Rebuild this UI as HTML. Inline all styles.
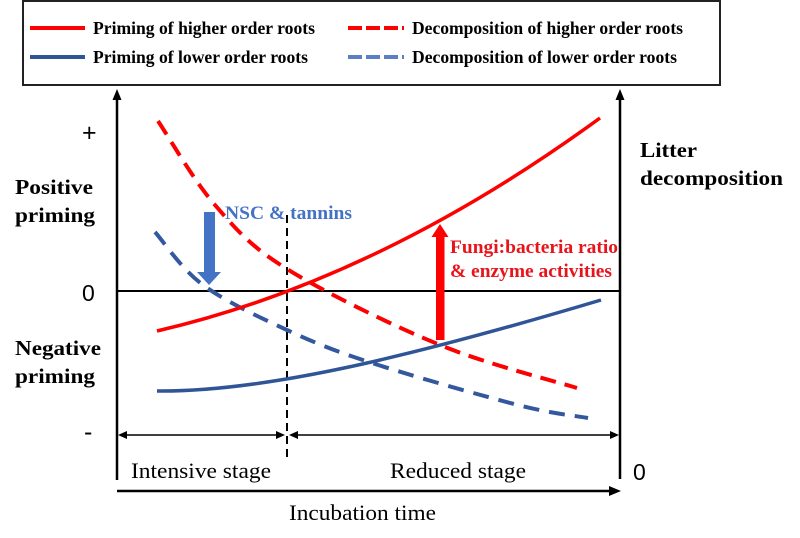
<!DOCTYPE html>
<html>
<head>
<meta charset="utf-8">
<style>
  html, body { margin: 0; padding: 0; background: #ffffff; }
  svg { display: block; }
  .serif { font-family: "Liberation Serif", "DejaVu Serif", serif; }
  .sans { font-family: "Liberation Sans", "DejaVu Sans", sans-serif; }
</style>
</head>
<body>
<svg width="800" height="538" viewBox="0 0 800 538" xmlns="http://www.w3.org/2000/svg">
  <rect x="0" y="0" width="800" height="538" fill="#ffffff"/>

  <!-- Legend -->
  <rect x="23" y="1" width="697" height="84" fill="#ffffff" stroke="#222" stroke-width="2"/>
  <line x1="30" y1="28" x2="85" y2="28" stroke="#ff0000" stroke-width="4"/>
  <line x1="30" y1="57" x2="85" y2="57" stroke="#2f5597" stroke-width="4"/>
  <line x1="348" y1="28" x2="404" y2="28" stroke="#ff0000" stroke-width="4" stroke-dasharray="14 4"/>
  <line x1="348" y1="57" x2="404" y2="57" stroke="#5b7fc4" stroke-width="4" stroke-dasharray="14 4"/>
  <g class="serif" font-weight="bold" font-size="17.5" fill="#000">
    <text x="93" y="34" textLength="222" lengthAdjust="spacingAndGlyphs">Priming of higher order roots</text>
    <text x="93" y="63" textLength="215" lengthAdjust="spacingAndGlyphs">Priming of lower order roots</text>
    <text x="412" y="34" textLength="271" lengthAdjust="spacingAndGlyphs">Decomposition of higher order roots</text>
    <text x="412" y="63" textLength="265" lengthAdjust="spacingAndGlyphs">Decomposition of lower order roots</text>
  </g>

  <!-- Axes -->
  <line x1="117" y1="96" x2="117" y2="480" stroke="#000" stroke-width="2.5"/>
  <polygon points="117,89 112.5,100 121.5,100" fill="#000"/>
  <line x1="620" y1="96" x2="620" y2="479" stroke="#000" stroke-width="2.5"/>
  <polygon points="620,89 615.5,100 624.5,100" fill="#000"/>
  <!-- zero line -->
  <line x1="117" y1="291" x2="620" y2="291" stroke="#000" stroke-width="2"/>

  <!-- vertical dashed divider -->
  <line x1="287" y1="215" x2="287" y2="457" stroke="#000" stroke-width="2" stroke-dasharray="8 5"/>

  <!-- stage double arrows -->
  <line x1="121" y1="435" x2="282" y2="435" stroke="#000" stroke-width="1.6"/>
  <polygon points="118,435 127,431 127,439" fill="#000"/>
  <polygon points="285,435 276,431 276,439" fill="#000"/>
  <line x1="292" y1="435" x2="616" y2="435" stroke="#000" stroke-width="1.6"/>
  <polygon points="289,435 298,431 298,439" fill="#000"/>
  <polygon points="619,435 610,431 610,439" fill="#000"/>

  <!-- incubation arrow -->
  <line x1="117" y1="491" x2="612" y2="491" stroke="#000" stroke-width="2.5"/>
  <polygon points="621,491 609,486 609,496" fill="#000"/>

  <!-- Curves -->
  <!-- Decomposition higher (red dashed) -->
  <path d="M158,121 C167.5,135 193.5,180.3 215,205 C236.5,229.7 249.5,245.7 287,269 C324.5,292.3 391.7,325.2 440,345 C488.3,364.8 554.2,380.8 577,388"
        fill="none" stroke="#ff0000" stroke-width="4" stroke-dasharray="16 9"/>
  <!-- Decomposition lower (blue dashed) -->
  <path d="M155,232 C163,240.8 181,268.7 203,285 C225,301.3 258.8,317 287,330 C315.2,343 333.5,350.5 372,363 C410.5,375.5 482,395.8 518,405 C554,414.2 576.3,415.8 588,418"
        fill="none" stroke="#34589e" stroke-width="4" stroke-dasharray="16 10"/>
  <!-- Priming higher (red solid) -->
  <path d="M157,331 Q378.5,279.7 600,118" fill="none" stroke="#ff0000" stroke-width="3.5"/>
  <!-- Priming lower (blue solid) -->
  <path d="M157,391 C260,392 400,360 601,300" fill="none" stroke="#2f5597" stroke-width="3.5"/>

  <!-- Blue arrow NSC -->
  <rect x="204" y="212" width="11" height="61" fill="#4472c4"/>
  <polygon points="197,272 221,272 209,285" fill="#4472c4"/>
  <text x="225" y="219" class="serif" font-weight="bold" font-size="19" fill="#4472c4" textLength="127" lengthAdjust="spacingAndGlyphs">NSC &amp; tannins</text>

  <!-- Red arrow fungi -->
  <rect x="436" y="236" width="8.5" height="104" fill="#ff0000"/>
  <polygon points="431.5,237 448.5,237 440,224" fill="#ff0000"/>
  <g class="serif" font-weight="bold" font-size="19" fill="#e8141c">
    <text x="450" y="253" textLength="168" lengthAdjust="spacingAndGlyphs">Fungi:bacteria ratio</text>
    <text x="450" y="277" textLength="162" lengthAdjust="spacingAndGlyphs">&amp; enzyme activities</text>
  </g>

  <!-- Left labels -->
  <g class="sans" fill="#000">
    <text x="82" y="141" font-size="25">+</text>
    <text x="82" y="301" font-size="23">0</text>
    <text x="84" y="440" font-size="25">-</text>
    <text x="633" y="480" font-size="23">0</text>
  </g>
  <g class="serif" font-weight="bold" font-size="21.5" fill="#000">
    <text x="15" y="194" textLength="78" lengthAdjust="spacingAndGlyphs">Positive</text>
    <text x="15" y="222" textLength="80" lengthAdjust="spacingAndGlyphs">priming</text>
    <text x="15" y="355" textLength="86" lengthAdjust="spacingAndGlyphs">Negative</text>
    <text x="15" y="383" textLength="80" lengthAdjust="spacingAndGlyphs">priming</text>
    <text x="640" y="157" textLength="57" lengthAdjust="spacingAndGlyphs">Litter</text>
    <text x="640" y="185" textLength="143" lengthAdjust="spacingAndGlyphs">decomposition</text>
  </g>

  <!-- Bottom labels -->
  <g class="serif" font-size="22" fill="#000">
    <text x="131" y="478" textLength="140" lengthAdjust="spacingAndGlyphs">Intensive stage</text>
    <text x="390" y="478" textLength="136" lengthAdjust="spacingAndGlyphs">Reduced stage</text>
    <text x="289" y="520" textLength="147" lengthAdjust="spacingAndGlyphs">Incubation time</text>
  </g>
</svg>
</body>
</html>
